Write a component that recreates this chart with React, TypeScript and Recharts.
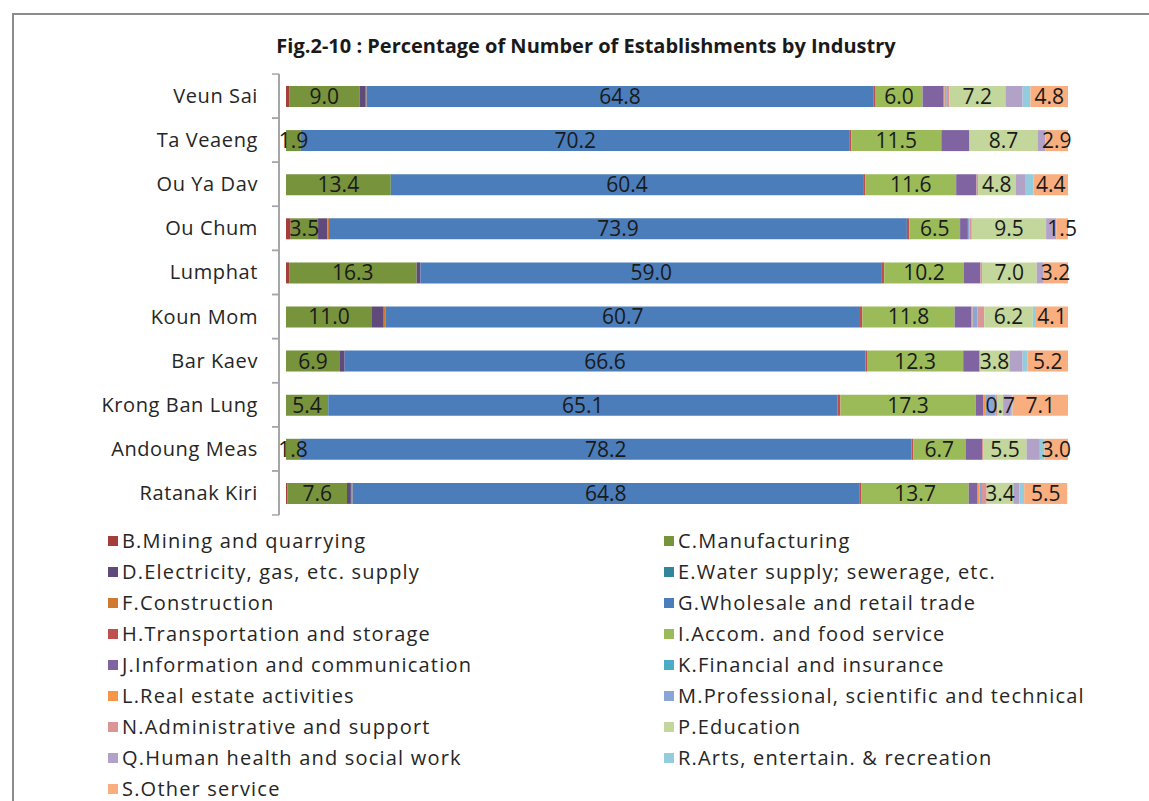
import React from "react";
import { BarChart, Bar, XAxis, YAxis, LabelList } from "recharts";

const categories = ["Veun Sai", "Ta Veaeng", "Ou Ya Dav", "Ou Chum", "Lumphat", "Koun Mom", "Bar Kaev", "Krong Ban Lung", "Andoung Meas", "Ratanak Kiri"];

const seriesB = [0.4, 0, 0, 0.6, 0.4, 0, 0, 0, 0, 0.2];
const seriesC = [9.0, 1.9, 13.4, 3.5, 16.3, 11.0, 6.9, 5.4, 1.8, 7.6];
const seriesD = [0.8, 0, 0, 1.2, 0.5, 1.5, 0.6, 0, 0, 0.5];
const seriesE = [0, 0, 0, 0, 0, 0, 0, 0, 0, 0.1];
const seriesF = [0.1, 0, 0, 0.2, 0, 0.2, 0, 0, 0, 0.1];
const seriesG = [64.8, 70.2, 60.4, 73.9, 59.0, 60.7, 66.6, 65.1, 78.2, 64.8];
const seriesH = [0.3, 0.2, 0.3, 0.3, 0.3, 0.3, 0.2, 0.4, 0.2, 0.3];
const seriesI = [6.0, 11.5, 11.6, 6.5, 10.2, 11.8, 12.3, 17.3, 6.7, 13.7];
const seriesJ = [2.7, 3.6, 2.6, 1.0, 2.1, 2.1, 2.1, 1.0, 2.1, 1.1];
const seriesK = [0.1, 0, 0, 0, 0, 0, 0, 0, 0, 0.1];
const seriesL = [0.2, 0, 0, 0, 0, 0.2, 0, 0.3, 0, 0.2];
const seriesM = [0.1, 0, 0, 0.2, 0, 0.6, 0, 1.2, 0, 0.3];
const seriesN = [0.3, 0, 0.2, 0.3, 0.2, 0.9, 0, 0.3, 0.2, 0.6];
const seriesP = [7.2, 8.7, 4.8, 9.5, 7.0, 6.2, 3.8, 0.7, 5.5, 3.4];
const seriesQ = [2.2, 1.0, 1.3, 1.3, 0.8, 0, 1.7, 1.0, 1.7, 0.8];
const seriesR = [1.0, 0, 1.0, 0, 0, 0.4, 0.6, 0.2, 0.6, 0.6];
const seriesS = [4.8, 2.9, 4.4, 1.5, 3.2, 4.1, 5.2, 7.1, 3.0, 5.5];

const series = [
  { key: "B", name: "B.Mining and quarrying", color: "#A33E3B", values: seriesB, label: false },
  { key: "C", name: "C.Manufacturing", color: "#77933C", values: seriesC, label: true },
  { key: "D", name: "D.Electricity, gas, etc. supply", color: "#604A7B", values: seriesD, label: false },
  { key: "E", name: "E.Water supply; sewerage, etc.", color: "#31859C", values: seriesE, label: false },
  { key: "F", name: "F.Construction", color: "#D07A30", values: seriesF, label: false },
  { key: "G", name: "G.Wholesale and retail trade", color: "#4A7DBA", values: seriesG, label: true },
  { key: "H", name: "H.Transportation and storage", color: "#C0504D", values: seriesH, label: false },
  { key: "I", name: "I.Accom. and food service", color: "#9BBB59", values: seriesI, label: true },
  { key: "J", name: "J.Information and communication", color: "#8064A2", values: seriesJ, label: false },
  { key: "K", name: "K.Financial and insurance", color: "#4BACC6", values: seriesK, label: false },
  { key: "L", name: "L.Real estate activities", color: "#F79646", values: seriesL, label: false },
  { key: "M", name: "M.Professional, scientific and technical", color: "#8AA6D6", values: seriesM, label: false },
  { key: "N", name: "N.Administrative and support", color: "#D99694", values: seriesN, label: false },
  { key: "P", name: "P.Education", color: "#C3D69B", values: seriesP, label: true },
  { key: "Q", name: "Q.Human health and social work", color: "#B3A2C7", values: seriesQ, label: false },
  { key: "R", name: "R.Arts, entertain. & recreation", color: "#93CDDD", values: seriesR, label: false },
  { key: "S", name: "S.Other service", color: "#F8AE7E", values: seriesS, label: true },
];

const data = categories.map((name, i) => {
  const row: Record<string, any> = { name };
  series.forEach((s) => {
    row[s.key] = s.values[i];
  });
  return row;
});

const FONT = "'Open Sans', sans-serif";

const CatTick = (props: any) => {
  const { x, y, payload } = props;
  return (
    <g>
      <line x1={x + 1} y1={y - 22} x2={x + 8} y2={y - 22} stroke="#A6A6A6" strokeWidth={1.5} />
      <line x1={x + 1} y1={y + 22} x2={x + 8} y2={y + 22} stroke="#A6A6A6" strokeWidth={1.5} />
      <text x={x - 13} y={y} dy={7} textAnchor="end" fontFamily={FONT} fontSize={20} letterSpacing={0.6} fill="#262626">
        {payload.value}
      </text>
    </g>
  );
};

const fmt = (v: any) => (typeof v === "number" ? v.toFixed(1) : v);

export default function App() {
  return (
    <div style={{ position: "absolute", left: 0, top: 0, width: 1149, height: 801, background: "#fff", overflow: "hidden" }}>
      <div
        style={{
          position: "absolute",
          left: 12,
          top: 13,
          width: 1149,
          height: 801,
          borderTop: "2px solid #8C8C8C",
          borderLeft: "2px solid #8C8C8C",
        }}
      />
      <div
        style={{
          position: "absolute",
          left: 0,
          top: 32,
          width: 1172,
          textAlign: "center",
          fontFamily: FONT,
          fontWeight: 700,
          fontSize: 20,
          color: "#1a1a1a",
        }}
      >
        Fig.2-10 : Percentage of Number of Establishments by Industry
      </div>
      <div style={{ position: "absolute", left: 0, top: 0 }}>
        <BarChart
          layout="vertical"
          width={1149}
          height={801}
          data={data}
          margin={{ top: 74, right: 81, bottom: 286, left: 0 }}
          barSize={21}
        >
          <XAxis type="number" domain={[0, 100]} hide padding={{ left: 7, right: 0 }} allowDataOverflow />
          <YAxis
            type="category"
            dataKey="name"
            width={279}
            axisLine={{ stroke: "#A6A6A6", strokeWidth: 2 }}
            tickLine={false}
            tick={<CatTick />}
            interval={0}
          />
          {series.map((s) => (
            <Bar key={s.key} dataKey={s.key} name={s.name} stackId="a" fill={s.color} barSize={21} isAnimationActive={false}>
              {s.label ? (
                <LabelList
                  dataKey={s.key}
                  position="center"
                  formatter={fmt}
                  fill="#1a1a1a"
                  fontSize={21}
                  fontFamily={FONT}
                />
              ) : null}
            </Bar>
          ))}
        </BarChart>
      </div>
      <div
        style={{
          position: "absolute",
          left: 108,
          top: 525,
          display: "grid",
          gridTemplateColumns: "556px 480px",
          gridAutoRows: "31px",
          fontFamily: FONT,
          fontSize: 20,
          letterSpacing: 1.2,
          color: "#262626",
        }}
      >
        {series.map((s) => (
          <div key={s.key} style={{ display: "flex", alignItems: "center", whiteSpace: "nowrap" }}>
            <span style={{ display: "inline-block", width: 10, height: 10, background: s.color, marginRight: 4 }} />
            <span>{s.name}</span>
          </div>
        ))}
      </div>
    </div>
  );
}
